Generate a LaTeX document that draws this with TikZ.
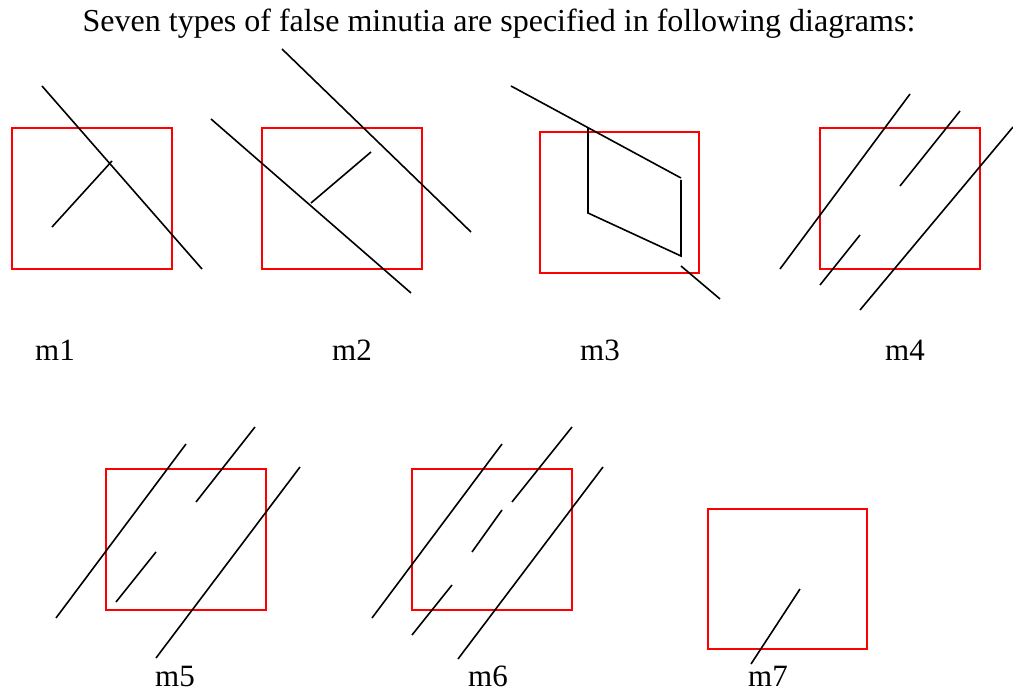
\documentclass[tikz,border=0pt]{standalone}
\usepackage{fontspec}
\setmainfont{Liberation Serif}
\begin{document}
\begin{tikzpicture}[x=1pt,y=-1pt,
  frame/.style={draw=red,line width=1.7pt},
  ridge/.style={draw=black,line width=1.6pt},
  lbl/.style={anchor=base,inner sep=0pt,font=\fontsize{31}{36}\selectfont}]
\useasboundingbox (0,0) rectangle (1013,692);
\node[lbl,font=\fontsize{32}{38}\selectfont] (title) at (499,32) {Seven types of false minutia are specified in following diagrams:};
% m1
\draw[frame] (12,128) rectangle (172,269);
\draw[ridge] (42,86) -- (202,269);
\draw[ridge] (52,227) -- (112,161);
\node[lbl] (l1) at (55,361) {m1};
% m2
\draw[frame] (262,128) rectangle (422,269);
\draw[ridge] (282,49) -- (471,232);
\draw[ridge] (211,119) -- (411,293);
\draw[ridge] (311,203) -- (371,152);
\node[lbl] (l2) at (352,361) {m2};
% m3
\draw[frame] (540,132) rectangle (699,273);
\draw[ridge] (511,86) -- (681,178);
\draw[ridge] (588,128) -- (588,213) -- (681,256) -- (681,180);
\draw[ridge] (681,266) -- (720,299);
\node[lbl] (l3) at (600,361) {m3};
% m4
\draw[frame] (820,128) rectangle (980,269);
\draw[ridge] (780,269) -- (910,94);
\draw[ridge] (900,186) -- (960,111);
\draw[ridge] (820,285) -- (860,235);
\node[lbl] (l4) at (905,361) {m4};
\draw[ridge] (860,310) -- (1013,127);
% m5
\draw[frame] (106,469) rectangle (266,610);
\draw[ridge] (56,618) -- (186,444);
\draw[ridge] (196,502) -- (255,427);
\draw[ridge] (116,602) -- (156,552);
\draw[ridge] (156,658) -- (300,467);
\node[lbl] (l5) at (175,686) {m5};
% m6
\draw[frame] (412,469) rectangle (572,610);
\draw[ridge] (372,618) -- (502,444);
\draw[ridge] (512,502) -- (572,427);
\draw[ridge] (472,552) -- (502,510);
\draw[ridge] (412,635) -- (452,585);
\draw[ridge] (458,659) -- (603,467);
\node[lbl] (l6) at (488,686) {m6};
% m7
\draw[frame] (708,509) rectangle (867,649);
\draw[ridge] (751,664) -- (800,589);
\node[lbl] (l7) at (768,686) {m7};
\end{tikzpicture}
\end{document}
